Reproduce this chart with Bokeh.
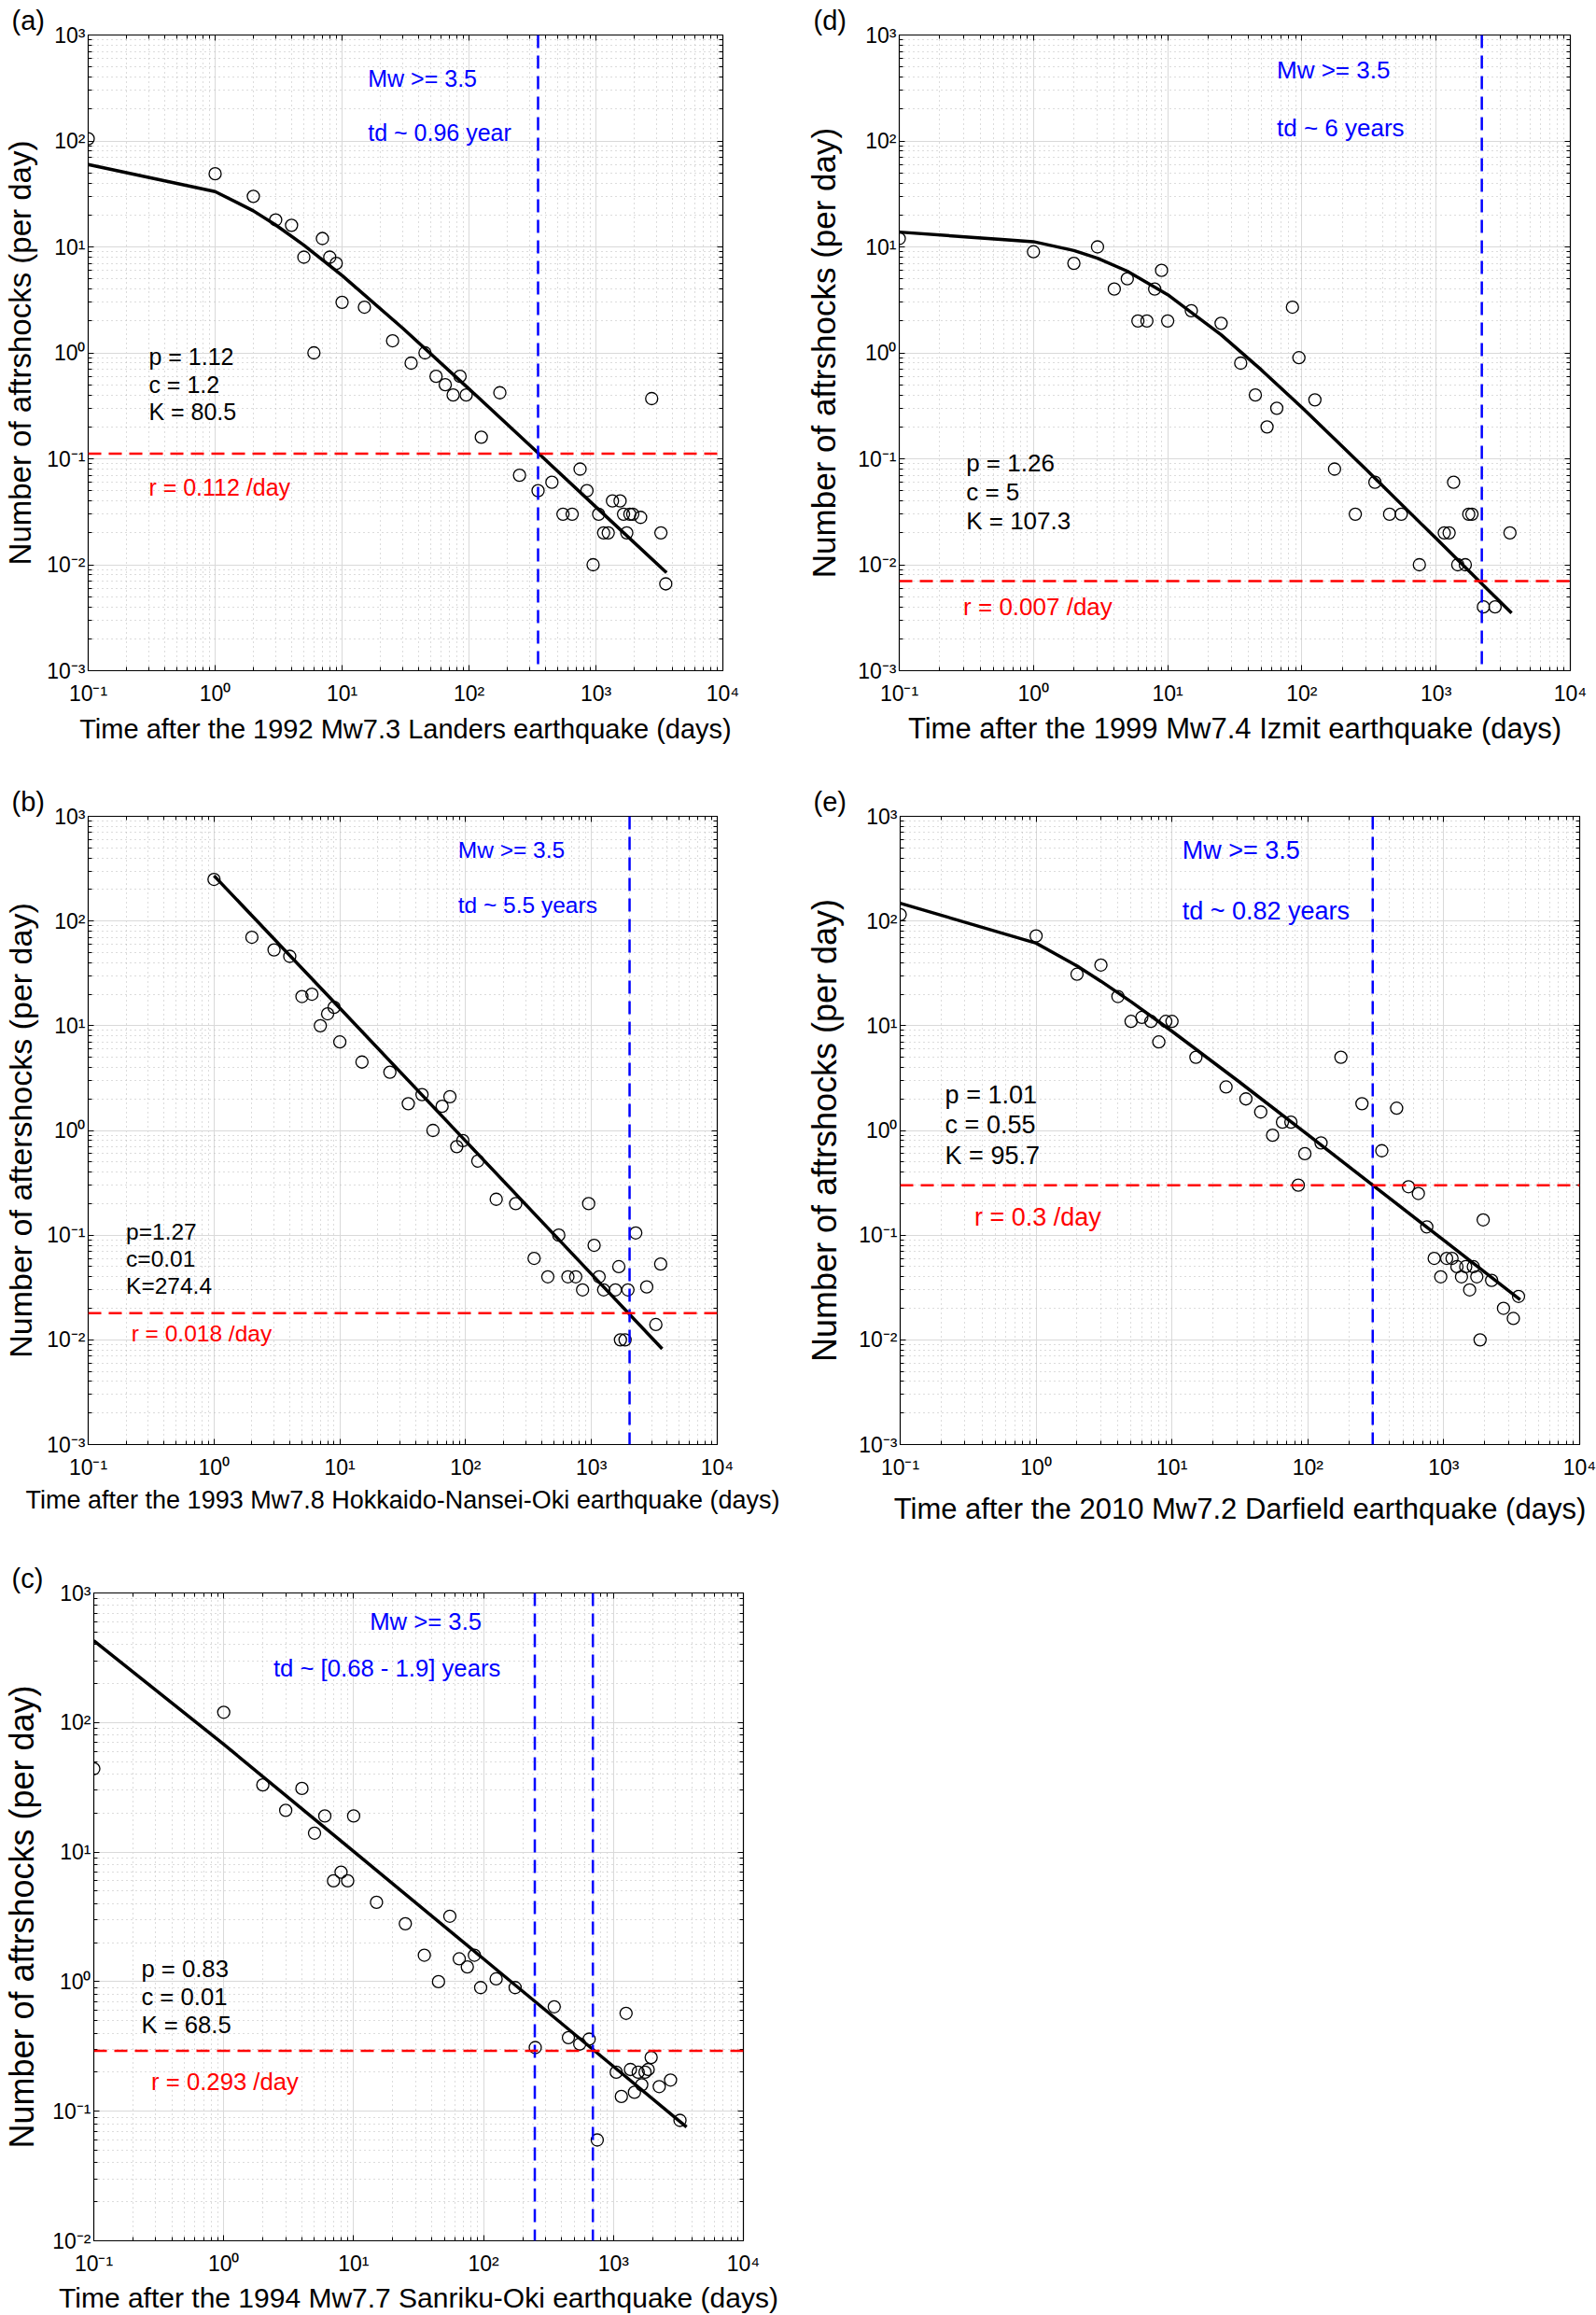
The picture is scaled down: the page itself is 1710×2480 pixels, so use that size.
from bokeh.plotting import figure
from bokeh.models import Range1d, FixedTicker, Label, Span, LogAxis
from bokeh.layouts import column, row
from bokeh.embed import file_html
from bokeh.resources import INLINE

FONT = "Liberation Sans"

# ---------------- data ----------------
# (a) 1992 Mw7.3 Landers
a_t = [0.1, 1, 2, 3, 4, 5, 6, 7, 8, 9, 10, 15, 25, 35, 45, 55, 65, 75, 85, 95,
       125, 175, 250, 350, 450, 550, 650, 750, 850, 950, 1050, 1150, 1250, 1350,
       1550, 1650, 1750, 1850, 1950, 2250, 2750, 3250, 3550]
a_n = [105, 49, 30, 18, 16, 8, 1.0, 12, 8, 7, 3, 2.7, 1.3, 0.8, 1.0, 0.6, 0.5, 0.4, 0.6, 0.4,
       0.16, 0.42, 0.07, 0.05, 0.06, 0.03, 0.03, 0.08, 0.05, 0.01, 0.03, 0.02, 0.02, 0.04,
       0.04, 0.03, 0.02, 0.03, 0.03, 0.028, 0.37, 0.02, 0.0066]
a_fit_t = [0.1, 1, 2, 3, 5, 10, 30, 100, 300, 1000, 3600]
a_fit_n = [60, 33.3, 21.9, 16.1, 10.4, 5.38, 1.71, 0.457, 0.135, 0.0351, 0.0084]

# (d) 1999 Mw7.4 Izmit
d_t = [0.1, 1, 2, 3, 4, 5, 6, 7, 8, 9, 10, 15, 25, 35, 45, 55, 65, 85, 95,
       125, 175, 250, 350, 450, 550, 750, 1150, 1250, 1350, 1450, 1650, 1750, 1850,
       2250, 2750, 3550]
d_n = [12, 9, 7, 10, 4, 5, 2, 2, 4, 6, 2, 2.5, 1.9, 0.8, 0.4, 0.2, 0.3, 2.7, 0.9,
       0.36, 0.08, 0.03, 0.06, 0.03, 0.03, 0.01, 0.02, 0.02, 0.06, 0.01, 0.01, 0.03, 0.03,
       0.004, 0.004, 0.02]
d_fit_t = [0.1, 1, 2, 3, 5, 10, 25, 50, 100, 300, 1000, 2250, 3650]
d_fit_n = [13.8, 11.2, 9.24, 7.81, 5.9, 3.54, 1.48, 0.688, 0.305, 0.0795, 0.0177, 0.0064, 0.0035]

# (b) 1993 Mw7.8 Hokkaido-Nansei-Oki
b_t = [1, 2, 3, 4, 5, 6, 7, 8, 9, 10, 15, 25, 35, 45, 55, 65, 75, 85, 95,
       125, 175, 250, 350, 450, 550, 650, 750, 850, 950, 1050, 1150, 1250, 1550,
       1650, 1700, 1850, 1950, 2250, 2750, 3250, 3550]
b_n = [250, 70, 53, 46, 19, 20, 10, 13, 15, 7, 4.5, 3.6, 1.8, 2.2, 1.0, 1.7, 2.1, 0.7, 0.8,
       0.51, 0.22, 0.2, 0.06, 0.04, 0.1, 0.04, 0.04, 0.03, 0.2, 0.08, 0.04, 0.03, 0.03,
       0.05, 0.01, 0.01, 0.03, 0.105, 0.032, 0.014, 0.053]
b_fit_t = [1, 10, 100, 1000, 3650]
b_fit_n = [271, 14.7, 0.791, 0.0425, 0.0082]

# (e) 2010 Mw7.2 Darfield
e_t = [0.1, 1, 2, 3, 4, 5, 6, 7, 8, 9, 10, 15, 25, 35, 45, 55, 65, 75, 85, 95,
       125, 175, 250, 350, 450, 550, 650, 750, 850, 950, 1050, 1150, 1250, 1350,
       1450, 1550, 1650, 1750, 1850, 1950, 2250, 2750, 3250, 3550]
e_n = [115, 72, 31, 38, 19, 11, 12, 11, 7, 11, 11, 5, 2.6, 2.0, 1.5, 0.9, 1.2, 1.2, 0.3, 0.6,
       0.76, 5.0, 1.8, 0.64, 1.63, 0.29, 0.25, 0.12, 0.06, 0.04, 0.06, 0.06, 0.05, 0.04,
       0.05, 0.03, 0.05, 0.04, 0.01, 0.14, 0.037, 0.02, 0.016, 0.026]
e_fit_t = [0.1, 1, 2, 3, 5, 10, 30, 100, 300, 1000, 3650]
e_fit_n = [148, 61.5, 37.2, 26.6, 16.95, 8.86, 3.03, 0.909, 0.30, 0.0893, 0.0241]

# (c) 1994 Mw7.7 Sanriku-Oki
c_t = [0.1, 1, 2, 3, 4, 5, 6, 7, 8, 9, 10, 15, 25, 35, 45, 55, 65, 75, 85, 95,
       125, 175, 250, 350, 450, 550, 650, 750, 1050, 1150, 1250, 1350, 1450, 1550,
       1650, 1750, 1850, 1950, 2250, 2750, 3250]
c_n = [44, 120, 33, 21, 31, 14, 19, 6, 7, 6, 19, 4.1, 2.8, 1.6, 1.0, 3.2, 1.5, 1.3, 1.6, 0.9,
       1.05, 0.9, 0.31, 0.64, 0.37, 0.33, 0.36, 0.06, 0.2, 0.13, 0.57, 0.21, 0.14, 0.2,
       0.16, 0.2, 0.21, 0.26, 0.155, 0.174, 0.085]
c_fit_t = [0.1, 1, 10, 100, 1000, 3650]
c_fit_n = [428, 67.9, 10.12, 1.499, 0.2215, 0.0756]

# thresholds: td (days) and rate r (per day)
a_td, a_r = [350], 0.112
d_td, d_r = [2190], 0.007
b_td, b_r = [2009], 0.018
e_td, e_r = [300], 0.3
c_td, c_r = [248, 694], 0.293

# tick labels
tick_vals = [0.001, 0.01, 0.1, 1.0, 10.0, 100.0, 1000.0, 10000.0]
tick_text = ["10\u207b\u00b3", "10\u207b\u00b2", "10\u207b\u00b9", "10\u2070",
             "10\u00b9", "10\u00b2", "10\u00b3", "10\u2074"]
minor_vals = [m * 10.0 ** e for e in range(-3, 4) for m in range(2, 10)]

BLUE = "#0000ff"
RED = "#ff0000"


def make_panel(tag, t, n, fit_t, fit_n, td, r, xlabel, ylabel, notes, yr,
               W, H, bl, br, bt, bb, tag_dx, yl_sd, xl_sd,
               xl_size, yl_size, note_size):
    p = figure(width=W, height=H, x_axis_type="log", y_axis_type="log",
               x_range=Range1d(0.1, 1e4), y_range=Range1d(*yr),
               output_backend="svg", toolbar_location=None,
               min_border_left=bl, min_border_right=br,
               min_border_top=bt, min_border_bottom=bb)
    p.outline_line_color = "black"
    p.outline_line_width = 1.2
    p.background_fill_color = "white"
    p.border_fill_color = "white"

    # panel tag as a left-shifted title
    p.title.text = tag
    p.title.align = "left"
    p.title.offset = tag_dx
    p.title.standoff = 0
    p.title.text_font = FONT
    p.title.text_font_size = "29px"
    p.title.text_font_style = "normal"
    p.title.text_color = "black"

    ticker = FixedTicker(ticks=tick_vals, minor_ticks=minor_vals)
    overrides = dict(zip(tick_vals, tick_text))
    xa, ya = p.below[0], p.left[0]
    for ax in (xa, ya):
        ax.ticker = ticker
        ax.major_label_overrides = overrides
        ax.major_label_text_font = FONT
        ax.major_label_text_font_size = "23px"
        ax.major_label_text_color = "black"
        ax.axis_line_color = "black"
        ax.major_tick_in = 6
        ax.major_tick_out = 0
        ax.minor_tick_in = 4
        ax.minor_tick_out = 0
        ax.major_tick_line_color = "black"
        ax.minor_tick_line_color = "black"
        ax.axis_label_text_font = FONT
        ax.axis_label_text_font_style = "normal"
        ax.axis_label_text_color = "black"
    xa.major_label_standoff = 11
    ya.major_label_standoff = 3
    xa.axis_label = xlabel
    xa.axis_label_text_font_size = xl_size
    xa.axis_label_standoff = xl_sd
    ya.axis_label = ylabel
    ya.axis_label_text_font_size = yl_size
    ya.axis_label_standoff = yl_sd

    for side in ("above", "right"):
        ax = LogAxis(ticker=ticker, major_label_text_font_size="1px",
                     major_label_text_alpha=0.0,
                     major_label_standoff=0, major_tick_in=6, major_tick_out=0,
                     minor_tick_in=4, minor_tick_out=0, axis_line_color="black")
        p.add_layout(ax, side)

    for g in (p.xgrid[0], p.ygrid[0]):
        g.ticker = ticker
        g.grid_line_color = "#d9d9d9"
        g.grid_line_width = 1
        g.minor_grid_line_color = "#b8b8b8"
        g.minor_grid_line_dash = "1 4"
        g.minor_grid_line_width = 1

    # threshold lines
    for loc in td:
        p.add_layout(Span(location=loc, dimension="height", line_color=BLUE,
                          line_dash="14 8", line_width=2.5))
    p.add_layout(Span(location=r, dimension="width", line_color=RED,
                      line_dash="14 8", line_width=2.5))

    # fit and observations
    p.line(fit_t, fit_n, line_color="black", line_width=3.5)
    p.scatter(t, n, marker="circle", size=13, fill_color=None,
              line_color="black", line_width=1.3)

    for txt, x, y, col in notes:
        p.add_layout(Label(x=x, y=y, text=txt, text_color=col, text_font=FONT,
                           text_font_size=note_size, text_align="left",
                           text_baseline="middle"))
    return p


pa = make_panel("(a)", a_t, a_n, a_fit_t, a_fit_n, a_td, a_r,
                "Time after the 1992 Mw7.3 Landers earthquake (days)",
                "Number of aftrshocks (per day)",
                [("Mw >= 3.5", 16, 390, BLUE), ("td ~ 0.96 year", 16, 119, BLUE),
                 ("p = 1.12", 0.3, 0.92, "black"), ("c = 1.2", 0.3, 0.50, "black"),
                 ("K = 80.5", 0.3, 0.276, "black"), ("r = 0.112 /day", 0.3, 0.054, RED)],
                (1e-3, 1e3), 860, 830, 88, 86, 34, 112, -82, 7, 6,
                "29px", "33px", "25px")

pd_ = make_panel("(d)", d_t, d_n, d_fit_t, d_fit_n, d_td, d_r,
                 "Time after the 1999 Mw7.4 Izmit earthquake (days)",
                 "Number of aftrshocks (per day)",
                 [("Mw >= 3.5", 65, 470, BLUE), ("td ~ 6 years", 65, 133, BLUE),
                  ("p = 1.26", 0.315, 0.092, "black"), ("c = 5", 0.315, 0.0486, "black"),
                  ("K = 107.3", 0.315, 0.0262, "black"), ("r = 0.007 /day", 0.3, 0.004, RED)],
                 (1e-3, 1e3), 850, 830, 98, 28, 37, 108, -92, 14, 4,
                 "31px", "35px", "26px")

pb = make_panel("(b)", b_t, b_n, b_fit_t, b_fit_n, b_td, b_r,
                "Time after the 1993 Mw7.8 Hokkaido-Nansei-Oki earthquake (days)",
                "Number of aftershocks (per day)",
                [("Mw >= 3.5", 87, 473, BLUE), ("td ~ 5.5 years", 87, 143, BLUE),
                 ("p=1.27", 0.2, 0.107, "black"), ("c=0.01", 0.2, 0.0593, "black"),
                 ("K=274.4", 0.2, 0.0325, "black"), ("r = 0.018 /day", 0.22, 0.0115, RED)],
                (1e-3, 1e3), 860, 842, 90, 92, 38, 125, -82, 6, 4,
                "27px", "34px", "24.5px")

pe = make_panel("(e)", e_t, e_n, e_fit_t, e_fit_n, e_td, e_r,
                "Time after the 2010 Mw7.2 Darfield earthquake (days)",
                "Number of aftrshocks (per day)",
                [("Mw >= 3.5", 11.9, 476, BLUE), ("td ~ 0.82 years", 11.9, 124, BLUE),
                 ("p = 1.01", 0.214, 2.2, "black"), ("c = 0.55", 0.214, 1.12, "black"),
                 ("K = 95.7", 0.214, 0.577, "black"), ("r = 0.3 /day", 0.351, 0.147, RED)],
                (1e-3, 1e3), 850, 842, 99, 18, 44, 118, -93, 13, 11,
                "31px", "36px", "27px")

pc = make_panel("(c)", c_t, c_n, c_fit_t, c_fit_n, c_td, c_r,
                "Time after the 1994 Mw7.7 Sanriku-Oki earthquake (days)",
                "Number of aftrshocks (per day)",
                [("Mw >= 3.5", 13.3, 604, BLUE), ("td ~ [0.68 - 1.9] years", 2.41, 264, BLUE),
                 ("p = 0.83", 0.232, 1.26, "black"), ("c = 0.01", 0.232, 0.76, "black"),
                 ("K = 68.5", 0.232, 0.462, "black"), ("r = 0.293 /day", 0.277, 0.168, RED)],
                (1e-2, 1e3), 860, 808, 94, 64, 32, 77, -88, 9, 4,
                "30px", "36px", "25.7px")

layout = column(row(pa, pd_), row(pb, pe), pc)

with open("out.html", "w") as f:
    f.write(file_html(layout, INLINE))
